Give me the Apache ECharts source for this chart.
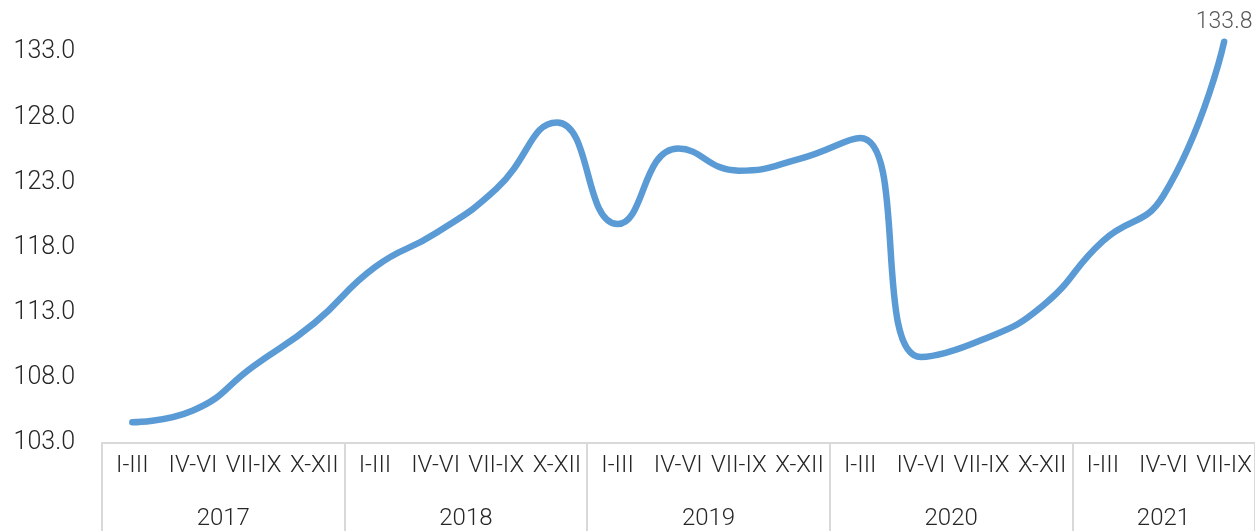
<!DOCTYPE html>
<html>
<head>
<meta charset="utf-8">
<script src="https://cdn.jsdelivr.net/npm/echarts@6/dist/echarts.min.js"></script>
<style>
  html, body { margin: 0; padding: 0; background: #fff; }
  #chart { width: 1255px; height: 531px; }
</style>
</head>
<body>
<div id="chart"></div>
<script>
// quarter labels and the year each one belongs to
const quarters = ['I-III', 'IV-VI', 'VII-IX', 'X-XII',
                  'I-III', 'IV-VI', 'VII-IX', 'X-XII',
                  'I-III', 'IV-VI', 'VII-IX', 'X-XII',
                  'I-III', 'IV-VI', 'VII-IX', 'X-XII',
                  'I-III', 'IV-VI', 'VII-IX'];
const quarterYears = ['2017', '2017', '2017', '2017',
                      '2018', '2018', '2018', '2018',
                      '2019', '2019', '2019', '2019',
                      '2020', '2020', '2020', '2020',
                      '2021', '2021', '2021'];
const values = [104.6, 105.5, 108.9, 112.2,
                116.5, 119.1, 122.5, 127.6,
                119.8, 125.6, 123.9, 124.8,
                126.4, 109.6, 110.9, 113.5,
                118.5, 122.0, 133.8];
const yTicks = [103, 108, 113, 118, 123, 128, 133];

// year groups: start index and length
const groups = [];
quarterYears.forEach((y, i) => {
  const g = groups[groups.length - 1];
  if (g && g.year === y) g.count++;
  else groups.push({ year: y, start: i, count: 1 });
});
const boundaries = groups.map(g => g.start).concat([quarters.length]);
const centers = groups.map(g => g.start + g.count / 2);

const chart = echarts.init(document.getElementById('chart'));
const font = 'Roboto, "Liberation Sans", sans-serif';

chart.setOption({
  animation: false,
  grid: { left: 102, right: 0, top: 0, bottom: 87 },
  xAxis: [
    {
      type: 'category',
      data: quarters,
      boundaryGap: true,
      axisLine: { lineStyle: { color: '#d9d9d9', width: 2 } },
      axisTick: { show: false },
      axisLabel: { interval: 0, margin: 11, fontSize: 24, color: '#262626', fontFamily: font, fontWeight: 300 }
    },
    {
      type: 'value',
      min: 0,
      max: quarters.length,
      position: 'bottom',
      splitLine: { show: false },
      axisLine: { show: false },
      axisTick: {
        show: true,
        length: 90,
        customValues: boundaries,
        lineStyle: { color: '#d9d9d9', width: 2 }
      },
      axisLabel: {
        customValues: centers,
        margin: 64,
        fontSize: 24,
        color: '#262626',
        fontFamily: font,
        fontWeight: 300,
        formatter: v => {
          const g = groups.find(g => Math.abs(g.start + g.count / 2 - v) < 1e-6);
          return g ? g.year : '';
        }
      }
    }
  ],
  yAxis: {
    type: 'value',
    min: yTicks[0],
    max: 137,
    interval: 5,
    splitLine: { show: false },
    axisLine: { show: false },
    axisTick: { show: false },
    axisLabel: {
      margin: 27,
      fontSize: 25,
      color: '#262626',
      fontFamily: font,
      fontWeight: 300,
      formatter: v => (yTicks.indexOf(v) >= 0 ? v.toFixed(1) : '')
    }
  },
  series: [{
    type: 'line',
    data: values,
    smooth: 0.5,
    showSymbol: false,
    lineStyle: { color: '#5b9bd5', width: 6.5, cap: 'round', join: 'round' },
    markPoint: {
      symbol: 'circle',
      symbolSize: 0,
      data: [{ coord: [quarters.length - 1, values[values.length - 1]], value: values[values.length - 1] }],
      label: {
        show: true,
        position: 'top',
        distance: 8,
        fontSize: 23,
        color: '#595959',
        fontFamily: font,
        fontWeight: 300,
        formatter: p => p.value.toFixed(1)
      }
    }
  }]
});
</script>
</body>
</html>
